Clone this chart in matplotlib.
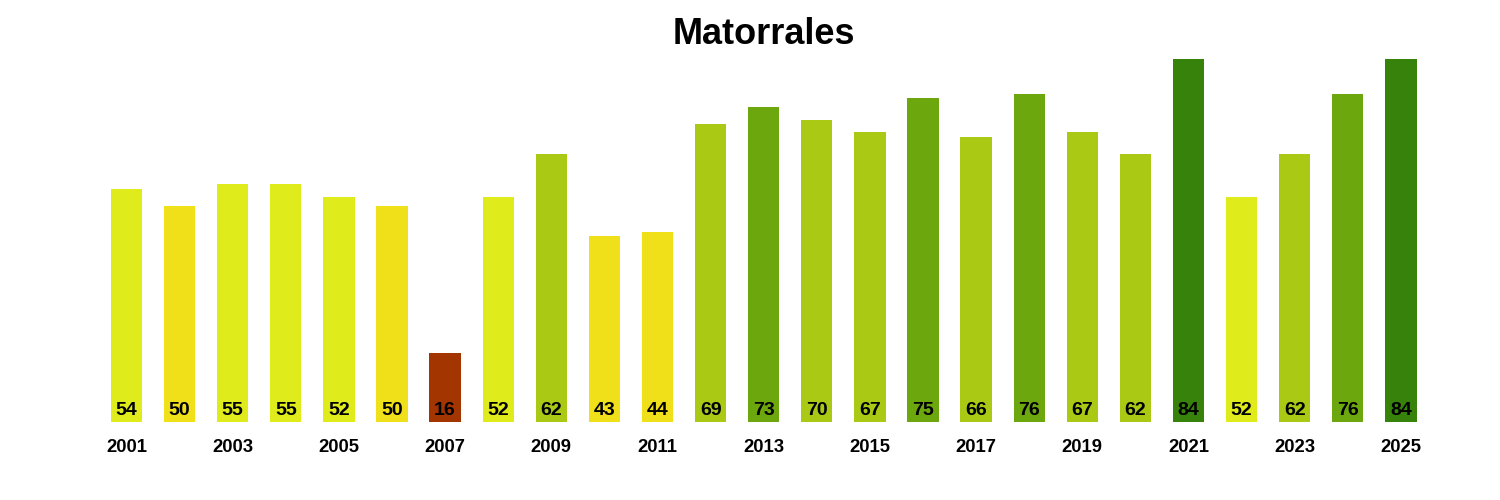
import matplotlib
matplotlib.use("Agg")
import matplotlib.pyplot as plt

years = list(range(2001, 2026))
values = [54, 50, 55, 55, 52, 50, 16, 52, 62, 43, 44, 69, 73, 70, 67, 75, 66, 76, 67, 62, 84, 52, 62, 76, 84]
categories = ["c4", "c3", "c4", "c4", "c4", "c3", "c1", "c4", "c5", "c3", "c3", "c5", "c6", "c5", "c5", "c6", "c5", "c6", "c5", "c5", "c7", "c4", "c5", "c6", "c7"]
palette = {"c1": "#A33500", "c3": "#F0E01A", "c4": "#E0EB1C", "c5": "#A9C915", "c6": "#6DA70E", "c7": "#37820A"}
title = "Matorrales"

plt.rcParams['font.family'] = ['Liberation Sans', 'DejaVu Sans']

fig = plt.figure(figsize=(15, 5), dpi=100)
ax = fig.add_axes([0, 0, 1, 1])
x = list(range(len(years)))
ax.bar(x, values, width=0.59, color=[palette[c] for c in categories])
ax.set_xlim(-2.382, 25.866)
ax.set_ylim(-18.05, 97.66)
ax.axis('off')

for xi, v in zip(x, values):
    ax.text(xi, 2.6, str(v), ha='center', va='center', fontsize=14, fontweight='bold', color='black')
for xi, y in zip(x, years):
    if y % 2 == 1:
        ax.text(xi, -6.0, str(y), ha='center', va='center', fontsize=13.3, fontweight='bold', color='black')

ax.text((x[0] + x[-1]) / 2, 89.7, title, ha='center', va='center', fontsize=26, fontweight='bold')

fig.savefig("out.png", dpi=100, facecolor='white')
